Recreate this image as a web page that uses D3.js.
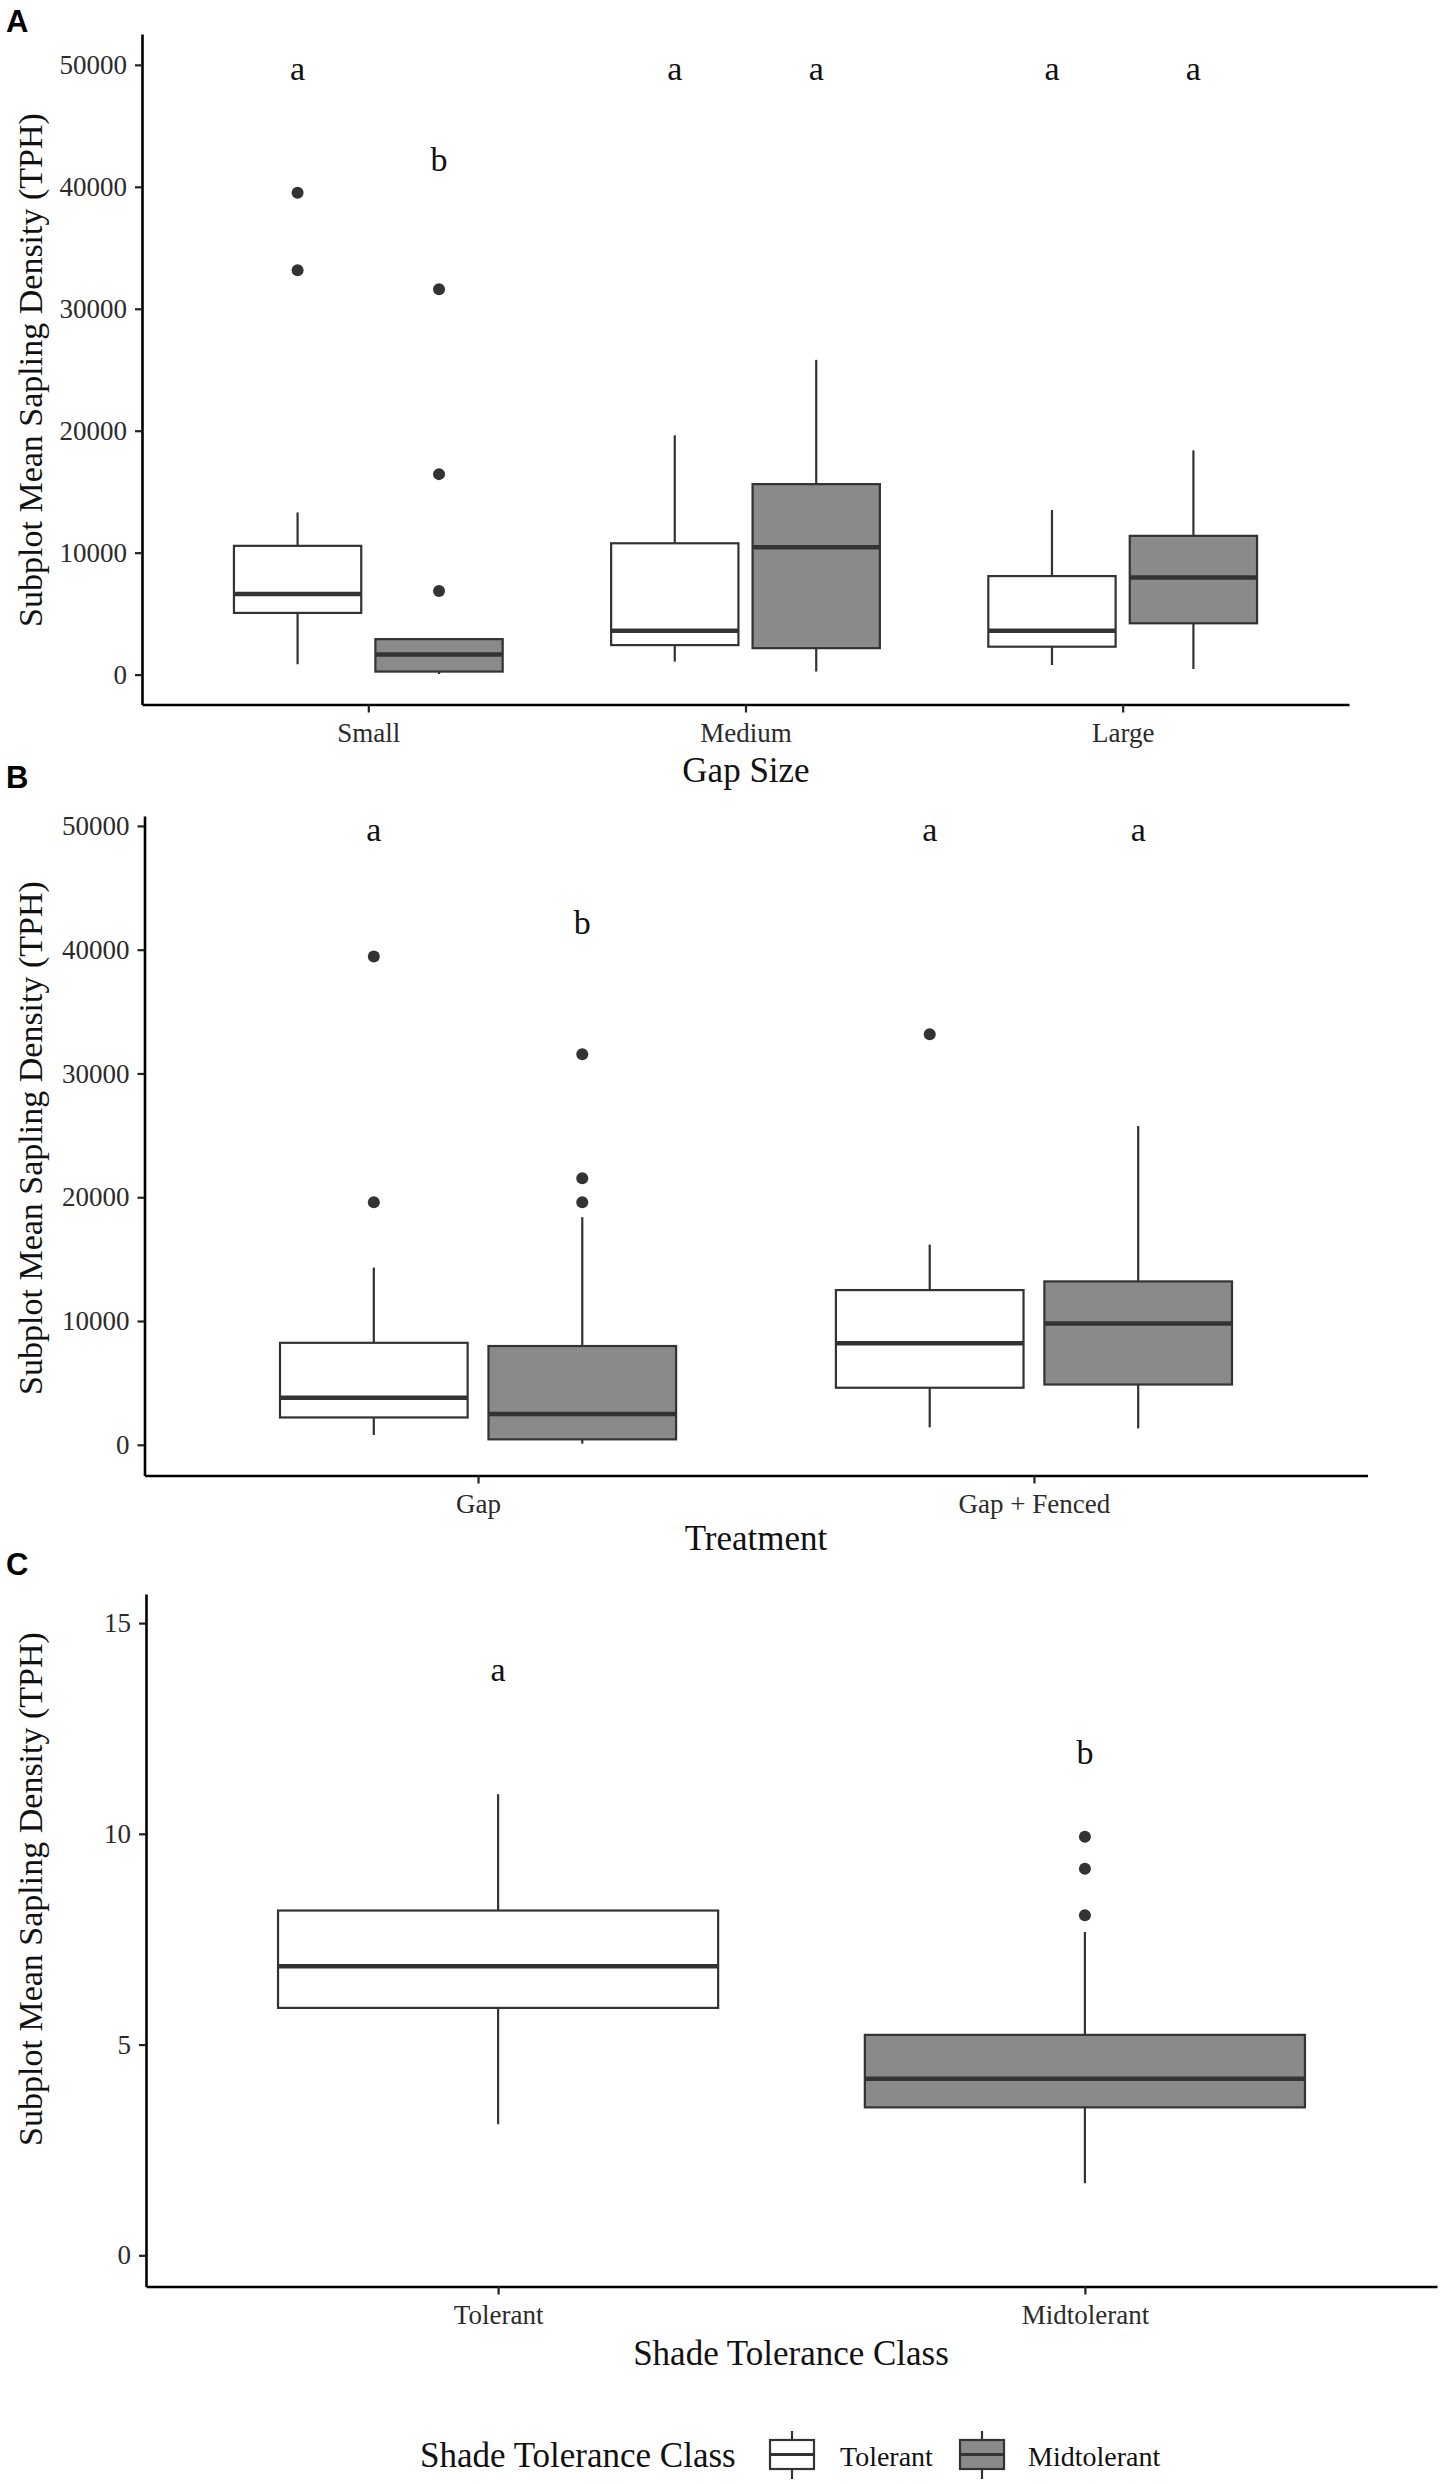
<!DOCTYPE html>
<html>
<head>
<meta charset="utf-8">
<script src="https://cdn.jsdelivr.net/npm/d3@7"></script>
<style>
  body { margin: 0; background: #fff; }
  svg text { font-family: "Liberation Serif", "Times New Roman", serif; }
</style>
</head>
<body>
<svg id="chart" width="1450" height="2484"></svg>
<script>
// box stats are [lower whisker, q1, median, q3, upper whisker]
const classNames = ["Tolerant", "Midtolerant"]
const classFill = ["#ffffff", "#8a8a8a"]

// Panel A - gap size
const sizeCats = ["Small", "Medium", "Large"]
const sizeTolerant = [[850, 5060, 6610, 10560, 13300], [1070, 2420, 3600, 10770, 19620], [790, 2290, 3600, 8080, 13500]]
const sizeMidtolerant = [[50, 250, 1640, 2910, 2910], [250, 2170, 10440, 15620, 25810], [460, 4210, 7960, 11380, 18390]]
const sizeTolerantOut = [[39520, 33160], [], []]
const sizeMidtolerantOut = [[31600, 16440, 6860], [], []]
const sizeLetters = [["a", "b"], ["a", "a"], ["a", "a"]]
const sizeLetterY = [[49700, 42200], [49700, 49700], [49700, 49700]]

// Panel B - treatment
const treatCats = ["Gap", "Gap + Fenced"]
const treatTolerant = [[790, 2210, 3810, 8240, 14320], [1410, 4610, 8200, 12500, 16180]]
const treatMidtolerant = [[90, 440, 2480, 7980, 18390], [1320, 4870, 9790, 13200, 25750]]
const treatTolerantOut = [[39450, 19590], [33160]]
const treatMidtolerantOut = [[31560, 21540, 19590], []]
const treatLetters = [["a", "b"], ["a", "a"]]
const treatLetterY = [[49700, 42200], [49700, 49700]]

// Panel C - shade tolerance class
const classStats = [[3.11, 5.87, 6.86, 8.18, 10.94], [1.71, 3.51, 4.19, 5.23, 7.67]]
const classOut = [[], [9.93, 9.17, 8.07]]
const classLetters = ["a", "b"]
const classLetterY = [13.9, 11.93]

const bigTicks = [0, 10000, 20000, 30000, 40000, 50000]
const smallTicks = [0, 5, 10, 15]

const svg = d3.select("#chart")
svg.append("rect").attr("width", 1450).attr("height", 2484).attr("fill", "#fff")

const darkLine = "#333333"

function drawBox(g, cx, w, s, fill, y) {
  // whiskers
  g.append("line").attr("x1", cx).attr("x2", cx).attr("y1", y(s[3])).attr("y2", y(s[4]))
    .attr("stroke", darkLine).attr("stroke-width", 2.2)
  g.append("line").attr("x1", cx).attr("x2", cx).attr("y1", y(s[1])).attr("y2", y(s[0]))
    .attr("stroke", darkLine).attr("stroke-width", 2.2)
  g.append("rect")
    .attr("x", cx - w / 2).attr("width", w)
    .attr("y", y(s[3])).attr("height", y(s[1]) - y(s[3]))
    .attr("fill", fill).attr("stroke", darkLine).attr("stroke-width", 2.2)
  g.append("line").attr("x1", cx - w / 2).attr("x2", cx + w / 2).attr("y1", y(s[2])).attr("y2", y(s[2]))
    .attr("stroke", darkLine).attr("stroke-width", 4.5)
}

function drawOutliers(g, cx, vals, y) {
  vals.forEach((v) => {
    g.append("circle").attr("cx", cx).attr("cy", y(v)).attr("r", 6).attr("fill", darkLine)
  })
}

function drawAxes(g, x, y, box, ticks, fmt) {
  const yAxis = g.append("g")
    .attr("transform", `translate(${box.x0},0)`)
    .call(d3.axisLeft(y).tickValues(ticks).tickSize(7).tickSizeOuter(0).tickPadding(8).tickFormat(fmt))
  const xAxis = g.append("g")
    .attr("transform", `translate(0,${box.y1})`)
    .call(d3.axisBottom(x).tickSize(8).tickSizeOuter(0).tickPadding(0))
  ;[yAxis, xAxis].forEach((a) => {
    a.select(".domain").attr("stroke", "#000").attr("stroke-width", 2.6)
    a.selectAll(".tick line").attr("stroke", "#222").attr("stroke-width", 2.2)
    a.selectAll(".tick text").attr("fill", "#2b2b2b").style("font-size", "27px")
      .style("font-family", "Liberation Serif, Times New Roman, serif")
  })
  xAxis.selectAll(".tick text").attr("y", 37).attr("dy", 0)
}

function panelLabel(label, yBase) {
  svg.append("text").attr("x", 6).attr("y", yBase).text(label)
    .style("font-family", "Liberation Sans, Arial, sans-serif")
    .style("font-weight", "bold").style("font-size", "31px").attr("fill", "#000")
}

function yTitle(cy) {
  svg.append("text")
    .attr("transform", `translate(30,${cy}) rotate(-90)`)
    .attr("text-anchor", "middle").attr("dominant-baseline", "central")
    .style("font-size", "34px").attr("fill", "#111")
    .text("Subplot Mean Sapling Density (TPH)")
}

function xTitle(txt, cx, yBase) {
  svg.append("text").attr("x", cx).attr("y", yBase).attr("text-anchor", "middle")
    .style("font-size", "35px").attr("fill", "#111").text(txt)
}

function letter(g, cx, cy, txt) {
  g.append("text").attr("x", cx).attr("y", cy).attr("text-anchor", "middle")
    .attr("dominant-baseline", "central").style("font-size", "34px").attr("fill", "#111").text(txt)
}

// dodged panel (A and B)
function dodgedPanel(box, cats, domain, tol, mid, tolOut, midOut, letters, letterY) {
  const g = svg.append("g")
  const x = d3.scalePoint().domain(cats).range([box.x0, box.x1]).padding(0.6)
  const y = d3.scaleLinear().domain(domain).range([box.y1, box.y0])
  const step = x.step()
  const w = step * 0.3375
  const off = step * 0.1875
  cats.forEach((c, i) => {
    const cxs = [x(c) - off, x(c) + off]
    drawBox(g, cxs[0], w, tol[i], classFill[0], y)
    drawBox(g, cxs[1], w, mid[i], classFill[1], y)
    drawOutliers(g, cxs[0], tolOut[i], y)
    drawOutliers(g, cxs[1], midOut[i], y)
    letters[i].forEach((l, j) => letter(g, cxs[j], y(letterY[i][j]), l))
  })
  drawAxes(g, x, y, box, bigTicks, d3.format("d"))
}

// Panel A
panelLabel("A", 32)
dodgedPanel({ x0: 142, x1: 1349, y0: 34, y1: 704.5 }, sizeCats, [-2450, 52530],
  sizeTolerant, sizeMidtolerant, sizeTolerantOut, sizeMidtolerantOut, sizeLetters, sizeLetterY)
yTitle(370)
xTitle("Gap Size", 746, 782)

// Panel B
panelLabel("B", 788)
dodgedPanel({ x0: 144.5, x1: 1367.5, y0: 816, y1: 1475.5 }, treatCats, [-2480, 50800],
  treatTolerant, treatMidtolerant, treatTolerantOut, treatMidtolerantOut, treatLetters, treatLetterY)
yTitle(1138)
xTitle("Treatment", 756, 1550)

// Panel C
panelLabel("C", 1575)
{
  const box = { x0: 146, x1: 1437, y0: 1594, y1: 2286.5 }
  const g = svg.append("g")
  const x = d3.scalePoint().domain(classNames).range([box.x0, box.x1]).padding(0.6)
  const y = d3.scaleLinear().domain([-0.74, 15.69]).range([box.y1, box.y0])
  const w = x.step() * 0.75
  classNames.forEach((c, i) => {
    drawBox(g, x(c), w, classStats[i], classFill[i], y)
    drawOutliers(g, x(c), classOut[i], y)
    letter(g, x(c), y(classLetterY[i]), classLetters[i])
  })
  drawAxes(g, x, y, box, smallTicks, d3.format("d"))
}
yTitle(1889)
xTitle("Shade Tolerance Class", 791, 2365)

// Legend
{
  const lg = svg.append("g")
  lg.append("text").attr("x", 420).attr("y", 2467).style("font-size", "35px").attr("fill", "#111")
    .text("Shade Tolerance Class")
  const keyX = [770, 960]
  const labelX = [840, 1028]
  classNames.forEach((c, i) => {
    const k = lg.append("g").attr("transform", `translate(${keyX[i]},0)`)
    k.append("line").attr("x1", 22).attr("x2", 22).attr("y1", 2431).attr("y2", 2479)
      .attr("stroke", darkLine).attr("stroke-width", 2.2)
    k.append("rect").attr("x", 0).attr("y", 2440).attr("width", 44).attr("height", 29)
      .attr("fill", classFill[i]).attr("stroke", darkLine).attr("stroke-width", 2.2)
    k.append("line").attr("x1", 0).attr("x2", 44).attr("y1", 2454.5).attr("y2", 2454.5)
      .attr("stroke", darkLine).attr("stroke-width", 3)
    lg.append("text").attr("x", labelX[i]).attr("y", 2466).style("font-size", "28px").attr("fill", "#111")
      .text(c)
  })
}
</script>
</body>
</html>
